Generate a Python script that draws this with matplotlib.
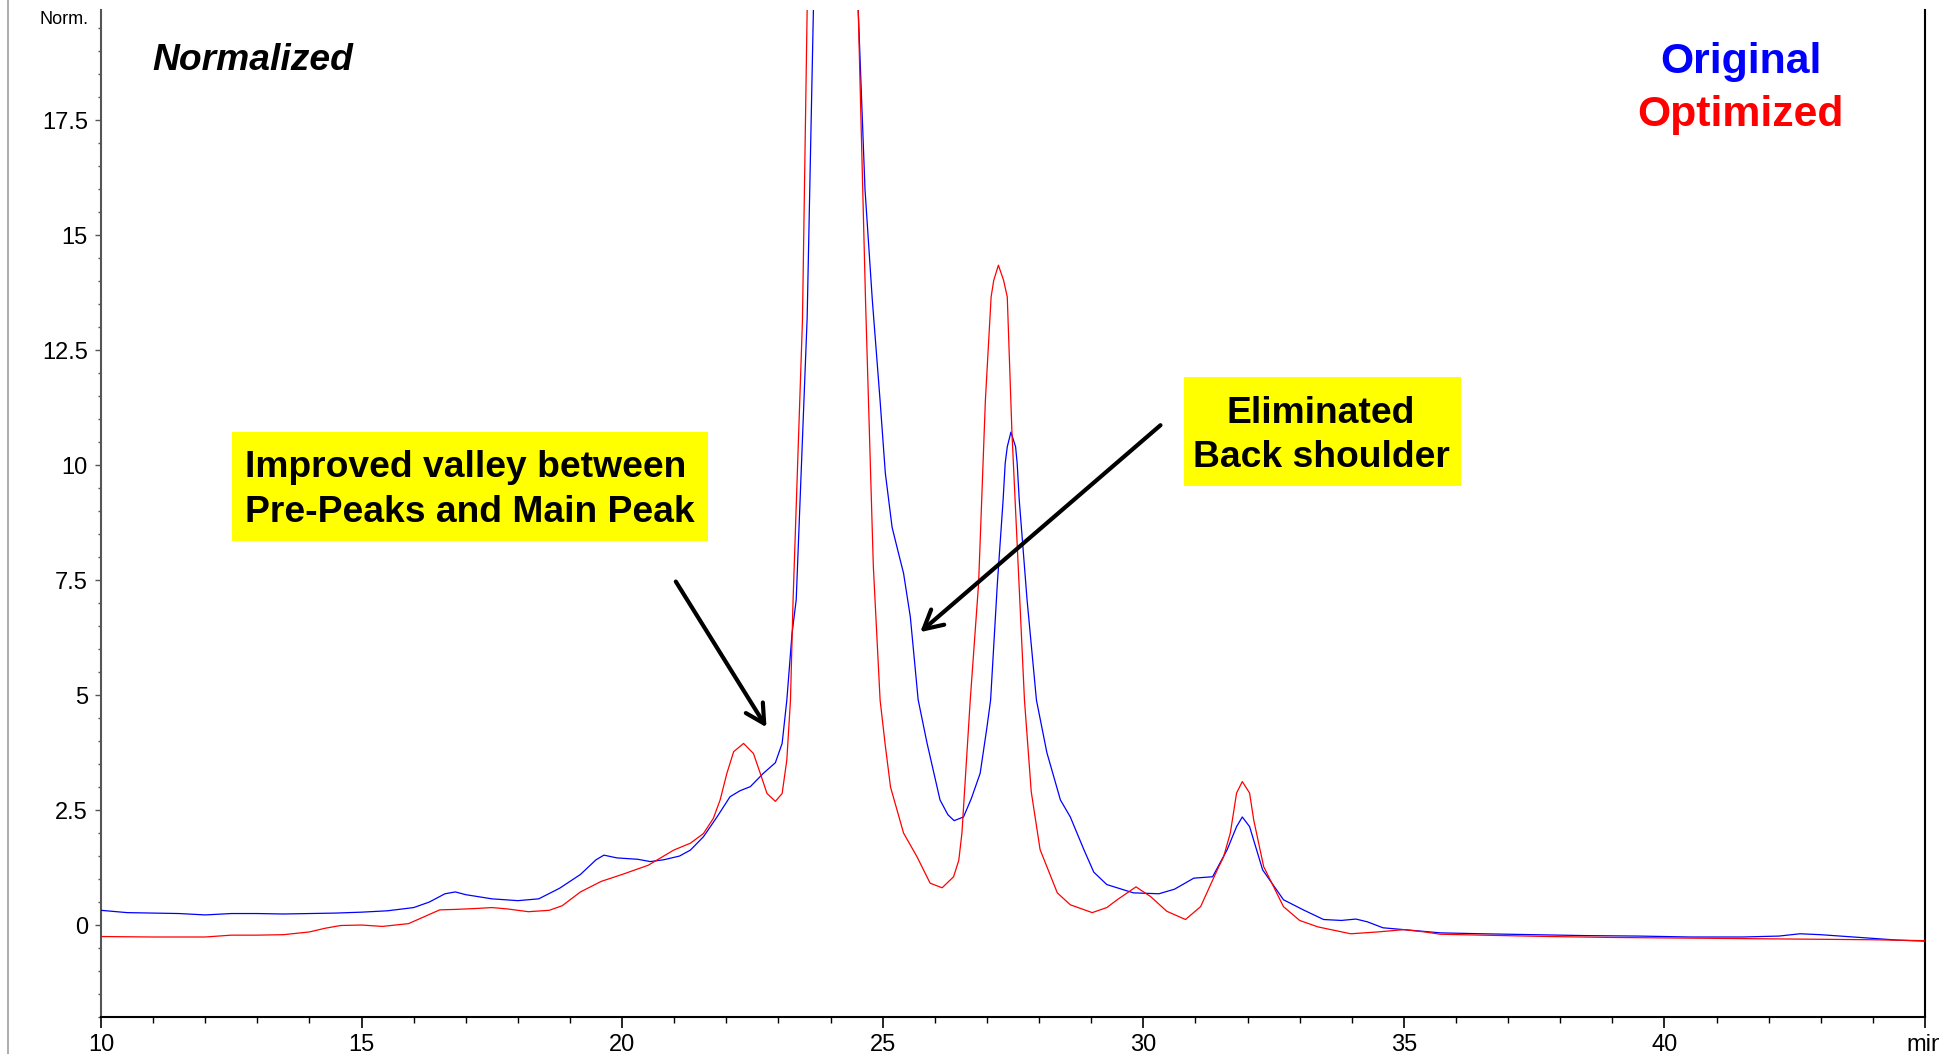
import matplotlib
matplotlib.use('Agg')
import matplotlib.pyplot as plt
from matplotlib.lines import Line2D
from matplotlib.patches import Rectangle
from matplotlib.ticker import MultipleLocator, FixedLocator, FixedFormatter

# retention time (min) / normalized signal, Original run
orig_t = [10.0, 10.5, 11.0, 11.5, 12.0, 12.5, 13.0, 13.5, 14.0, 14.5, 15.0, 15.5, 16.0, 16.3, 16.6,
          16.8, 17.0, 17.5, 18.0, 18.4, 18.8, 19.2, 19.5, 19.65, 19.9, 20.3, 20.54, 20.8, 21.1, 21.31,
          21.56, 21.82, 22.07, 22.26, 22.46, 22.71, 22.94, 23.07, 23.16, 23.26, 23.34, 23.55, 23.67, 24.08,
          24.53, 24.66, 24.8, 24.95, 25.05, 25.18, 25.3, 25.4, 25.53, 25.68, 25.85, 26.1, 26.25, 26.37,
          26.55, 26.7, 26.87, 27.0, 27.07, 27.2, 27.31, 27.35, 27.39, 27.46, 27.55, 27.58, 27.62, 27.77,
          27.95, 28.15, 28.41, 28.6, 28.86, 29.05, 29.3, 29.81, 30.3, 30.6, 30.97, 31.33, 31.61, 31.79,
          31.9, 32.04, 32.29, 32.69, 33.07, 33.46, 33.8, 34.08, 34.3, 34.6, 35.0, 35.7, 36.5, 37.5,
          38.5, 39.5, 40.5, 41.5, 42.2, 42.6, 43.0, 43.5, 44.0, 44.5, 45.0]
orig_y = [0.32, 0.27, 0.26, 0.25, 0.22, 0.25, 0.25, 0.24, 0.25, 0.26, 0.28, 0.31, 0.38, 0.5, 0.68,
          0.72, 0.66, 0.57, 0.53, 0.57, 0.8, 1.1, 1.42, 1.52, 1.46, 1.43, 1.38, 1.42, 1.5, 1.63,
          1.92, 2.35, 2.79, 2.92, 3.01, 3.3, 3.53, 3.95, 4.89, 6.34, 7.07, 13.2, 19.9, 52.0,
          19.9, 16.0, 13.6, 11.4, 9.83, 8.65, 8.1, 7.65, 6.7, 4.9, 3.96, 2.72, 2.4, 2.27,
          2.35, 2.75, 3.3, 4.3, 4.89, 7.43, 9.24, 10.04, 10.4, 10.72, 10.4, 10.04, 9.24, 7.07,
          4.89, 3.75, 2.72, 2.35, 1.64, 1.15, 0.88, 0.7, 0.68, 0.78, 1.02, 1.05, 1.64, 2.14,
          2.35, 2.14, 1.2, 0.55, 0.33, 0.12, 0.1, 0.13, 0.07, -0.06, -0.1, -0.17, -0.19, -0.21,
          -0.23, -0.24, -0.26, -0.26, -0.24, -0.19, -0.21, -0.25, -0.29, -0.33, -0.35]

# Optimized run
opt_t = [10.0, 11.0, 12.0, 12.5, 13.0, 13.5, 14.0, 14.3, 14.6, 15.0, 15.4, 15.9, 16.2, 16.5, 16.8,
         17.2, 17.5, 17.8, 18.2, 18.6, 18.85, 19.2, 19.6, 20.0, 20.5, 20.99, 21.31, 21.56, 21.75, 21.88,
         22.01, 22.14, 22.33, 22.52, 22.65, 22.78, 22.94, 23.07, 23.16, 23.23, 23.28, 23.46, 23.55, 24.0,
         24.53, 24.67, 24.82, 24.95, 25.05, 25.15, 25.4, 25.66, 25.91, 26.14, 26.36, 26.46, 26.52, 26.68,
         26.84, 26.97, 27.08, 27.13, 27.22, 27.32, 27.39, 27.48, 27.6, 27.72, 27.85, 28.02, 28.35, 28.6,
         29.02, 29.3, 29.5, 29.86, 30.14, 30.45, 30.81, 31.1, 31.42, 31.54, 31.67, 31.79, 31.9, 32.04,
         32.12, 32.31, 32.69, 33.0, 33.35, 33.98, 34.5, 35.0, 35.4, 35.7, 36.5, 37.8, 39.0, 40.0,
         41.0, 42.0, 43.0, 44.0, 45.0]
opt_y = [-0.25, -0.26, -0.26, -0.22, -0.22, -0.21, -0.15, -0.07, -0.01, 0.0, -0.03, 0.03, 0.18, 0.33, 0.34,
         0.36, 0.38, 0.35, 0.29, 0.32, 0.42, 0.72, 0.95, 1.1, 1.3, 1.63, 1.78, 1.99, 2.32, 2.72,
         3.3, 3.77, 3.95, 3.73, 3.3, 2.86, 2.69, 2.86, 3.59, 4.89, 7.07, 13.15, 19.9, 60.0,
         19.9, 13.59, 7.8, 4.89, 3.9, 3.0, 2.0, 1.48, 0.91, 0.81, 1.05, 1.41, 2.0, 4.9,
         7.43, 11.41, 13.66, 14.02, 14.35, 14.02, 13.66, 10.7, 7.8, 4.89, 2.9, 1.64, 0.7, 0.44,
         0.27, 0.38, 0.55, 0.83, 0.62, 0.3, 0.12, 0.4, 1.2, 1.48, 2.0, 2.87, 3.12, 2.87,
         2.28, 1.27, 0.4, 0.1, -0.04, -0.19, -0.15, -0.1, -0.15, -0.2, -0.22, -0.25, -0.27, -0.28,
         -0.29, -0.3, -0.31, -0.32, -0.34]

x_major = [10, 15, 20, 25, 30, 35, 40, 45]
x_labels = ['10', '15', '20', '25', '30', '35', '40', 'min']
y_major = [0, 2.5, 5, 7.5, 10, 12.5, 15, 17.5]
y_labels = ['0', '2.5', '5', '7.5', '10', '12.5', '15', '17.5']

tick_font = ['Liberation Sans Narrow', 'Liberation Sans', 'DejaVu Sans']
note_font = ['Liberation Sans', 'DejaVu Sans']

W, H = 1940, 1054
fig = plt.figure(figsize=(W / 100, H / 100), dpi=100)
ax = fig.add_axes([101 / W, 1 - 1017 / H, (1925 - 101) / W, (1017 - 10) / H])

ax.plot(orig_t, orig_y, color='#0000ff', lw=0.9, zorder=3)
ax.plot(opt_t, opt_y, color='#ff0000', lw=0.9, zorder=3)

ax.set_xlim(10, 45)
ax.set_ylim(-2.0, 19.9)

ax.xaxis.set_major_locator(FixedLocator(x_major))
ax.xaxis.set_major_formatter(FixedFormatter(x_labels))
ax.xaxis.set_minor_locator(MultipleLocator(1))
ax.yaxis.set_major_locator(FixedLocator(y_major))
ax.yaxis.set_major_formatter(FixedFormatter(y_labels))
ax.yaxis.set_minor_locator(MultipleLocator(0.5))

ax.tick_params(axis='x', which='major', length=8, width=1.2, pad=4, direction='out', color='black')
ax.tick_params(axis='x', which='minor', length=4, width=1.0, direction='out', color='black')
ax.tick_params(axis='y', which='major', length=4.5, width=1.0, pad=5, direction='out', color='#555555')
ax.tick_params(axis='y', which='minor', length=2.5, width=1.0, direction='out', color='#555555')
ax.tick_params(axis='both', which='major', labelsize=17, labelcolor='black',
               labelfontfamily=tick_font)

ax.spines['top'].set_visible(False)
ax.spines['left'].set_color('#555555')
ax.spines['left'].set_linewidth(1.5)
ax.spines['bottom'].set_linewidth(1.5)
ax.spines['right'].set_linewidth(1.5)

ax.text(-0.007, 0.986, 'Norm.', transform=ax.transAxes, ha='right', va='baseline',
        family=tick_font, fontsize=13)

# titles
ax.text(0.028, 0.940, 'Normalized', transform=ax.transAxes, ha='left', va='baseline',
        family=note_font, fontsize=26.8, fontweight='bold', fontstyle='italic')
ax.text(0.899, 0.9374, 'Original', transform=ax.transAxes, ha='center', va='baseline',
        family=note_font, fontsize=30.8, fontweight='bold', color='#0000ff')
ax.text(0.899, 0.8848, 'Optimized', transform=ax.transAxes, ha='center', va='baseline',
        family=note_font, fontsize=30.8, fontweight='bold', color='#ff0000')

# yellow callouts
fig.add_artist(Rectangle((232 / W, 1 - 541 / H), 476 / W, 109 / H, transform=fig.transFigure,
                         facecolor='#ffff00', edgecolor='none', zorder=4))
fig.text(245 / W, 1 - 476.7 / H, 'Improved valley between', ha='left', va='baseline',
         family=note_font, fontsize=26.8, fontweight='bold', zorder=5)
fig.text(245 / W, 1 - 521.7 / H, 'Pre-Peaks and Main Peak', ha='left', va='baseline',
         family=note_font, fontsize=26.8, fontweight='bold', zorder=5)

fig.add_artist(Rectangle((1184 / W, 1 - 486 / H), 277 / W, 109 / H, transform=fig.transFigure,
                         facecolor='#ffff00', edgecolor='none', zorder=4))
fig.text(1321 / W, 1 - 422.7 / H, 'Eliminated', ha='center', va='baseline',
         family=note_font, fontsize=26.8, fontweight='bold', zorder=5)
fig.text(1321 / W, 1 - 467 / H, 'Back shoulder', ha='center', va='baseline',
         family=note_font, fontsize=26.8, fontweight='bold', zorder=5)

arrow = dict(arrowstyle='->,head_length=0.67,head_width=0.36', mutation_scale=20,
             lw=3.0, color='black', shrinkA=0, shrinkB=0)
ax.annotate('', xy=(22.77, 4.30), xytext=(21.03, 7.47), arrowprops=arrow, zorder=6)
ax.annotate('', xy=(25.72, 6.37), xytext=(30.33, 10.87), arrowprops=arrow, zorder=6)

# thin frame line at the far left
fig.add_artist(Line2D([8 / W, 8 / W], [0, 1], transform=fig.transFigure, color='#a0a0a0', lw=1.2))

fig.savefig('out.png', dpi=100)
